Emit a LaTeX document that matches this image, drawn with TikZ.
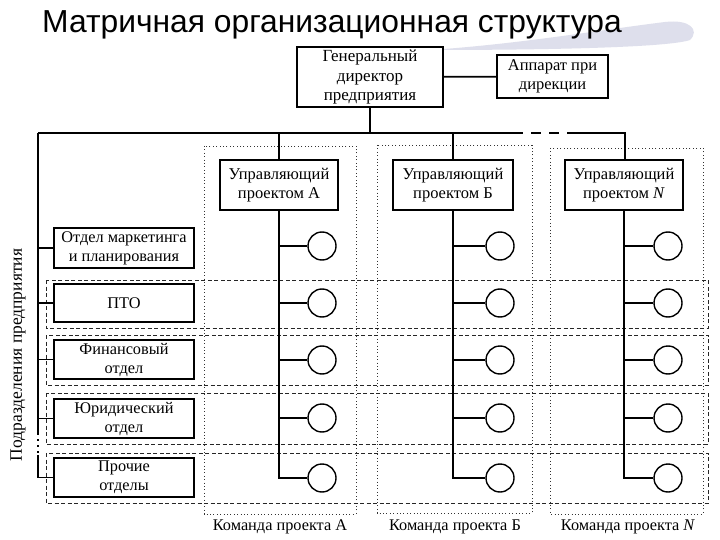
\documentclass[tikz,border=0pt]{standalone}
\usepackage{fontspec}
\setmainfont{Liberation Serif}
\newfontfamily\titlefont{Liberation Sans}
\begin{document}
\begin{tikzpicture}[x=1pt,y=-1pt,
  box/.style={draw=black,line width=1.6pt,fill=white,inner sep=0pt,align=center,font=\fontsize{16.3}{19}\selectfont},
  ring/.style={draw=black,line width=1.4pt,circle,minimum size=28pt,inner sep=0pt,fill=white},
  wire/.style={line width=1.8pt},
  teambox/.style={draw=black!80,line width=0.7pt,dash pattern=on 1pt off 2.4pt},
  rowbox/.style={draw=black!85,line width=0.7pt,dash pattern=on 4pt off 2.5pt},
  lbl/.style={font=\fontsize{16.3}{18}\selectfont,inner sep=0pt}]
\useasboundingbox (0,0) rectangle (720,540);
\fill[white] (0,0) rectangle (720,540);
% swoosh
\definecolor{swoosh}{RGB}{222,223,236}
\fill[swoosh] (430,50) .. controls (520,44) and (600,30) .. (665,22)
  .. controls (690,19) and (700,30) .. (690,40) .. controls (670,47) and (560,50) .. cycle;
\node[anchor=base west,inner sep=0pt,font=\titlefont\fontsize{31.8}{36}\selectfont] (title) at (42,33) {Матричная организационная структура};
% team boxes and row boxes
\draw[teambox] (204,146) rectangle (356,514);
\draw[teambox] (377,145) rectangle (532,513);
\draw[teambox] (550,148) rectangle (703,514);
\draw[rowbox] (46,280) rectangle (708,328);
\draw[rowbox] (46,335) rectangle (708,385);
\draw[rowbox] (46,393) rectangle (708,444);
\draw[rowbox] (46,453) rectangle (708,503);
% boxes
\node[box,minimum width=146pt,minimum height=60pt,font=\fontsize{17}{19.5}\selectfont] (dir) at (370,77) {Генеральный\\директор\\предприятия};
\node[box,minimum width=111pt,minimum height=43pt,font=\fontsize{16.5}{19}\selectfont] (app) at (552.5,76.5) {Аппарат при\\дирекции};
\node[box,minimum width=118pt,minimum height=50pt,font=\fontsize{16.5}{19.5}\selectfont] (mA) at (279,185) {Управляющий\\проектом А};
\node[box,minimum width=120pt,minimum height=50pt,font=\fontsize{16.5}{19.5}\selectfont] (mB) at (453,185) {Управляющий\\проектом Б};
\node[box,minimum width=118pt,minimum height=50pt,font=\fontsize{16.5}{19.5}\selectfont] (mN) at (624,185) {Управляющий\\проектом \textit{N}};
\node[box,minimum width=140pt,minimum height=40pt] (d1) at (124,248) {Отдел маркетинга\\и планирования};
\node[box,minimum width=140pt,minimum height=38pt] (d2) at (124,303) {ПТО};
\node[box,minimum width=140pt,minimum height=39pt] (d3) at (124,359.5) {Финансовый\\отдел};
\node[box,minimum width=140pt,minimum height=39pt] (d4) at (124,418.5) {Юридический\\отдел};
\node[box,minimum width=140pt,minimum height=39pt] (d5) at (124,477.5) {Прочие\\отделы};
% circles
\foreach \c/\x in {A/322,B/500,N/668}{
  \foreach \i/\y in {1/246,2/303,3/360,4/418,5/478}{
    \node[ring] (c\c\i) at (\x,\y) {};
  }
}
% connectors
\draw[wire] (dir) -- (app);
\coordinate (busL) at (38,133);
\coordinate (busG1) at (513,133);
\coordinate (busG2) at (568,133);
\coordinate (busR) at (625,133);
\draw[wire] (dir.south) -- (dir.south |- busL);
\draw[wire] (busL) -- (busG1);
\draw[wire,dash pattern=on 10pt off 8pt] (busG1) -- (busG2);
\draw[wire] (busG2) -- (busR) -- (mN.north -| busR);
\draw[wire] (mA.north |- busL) -- (mA.north);
\draw[wire] (mB.north |- busL) -- (mB.north);
\foreach \c in {A,B,N}{
  \draw[wire] (m\c.south) -- (m\c.south |- c\c5) -- (c\c5.west);
  \foreach \i in {1,2,3,4}{
    \draw[wire] (m\c.south |- c\c\i) -- (c\c\i.west);
  }
}
\coordinate (lv1) at (38,433);
\coordinate (lv2) at (38,455);
\draw[wire] (busL) -- (lv1);
\draw[wire,dash pattern=on 2pt off 4pt] (lv1) -- (lv2);
\draw[wire] (lv2) -- (busL |- d5.west) -- (d5.west);
\foreach \i in {1,2,3,4}{
  \draw[wire] (busL |- d\i.west) -- (d\i.west);
}
% labels
\node[lbl,rotate=90,font=\fontsize{17.5}{19}\selectfont] (side) at (18,355) {Подразделения предприятия};
\node[lbl] (tA) at (280,527) {Команда проекта А};
\node[lbl] (tB) at (455,527) {Команда проекта Б};
\node[lbl] (tN) at (628,527) {Команда проекта \textit{N}};
\end{tikzpicture}
\end{document}
